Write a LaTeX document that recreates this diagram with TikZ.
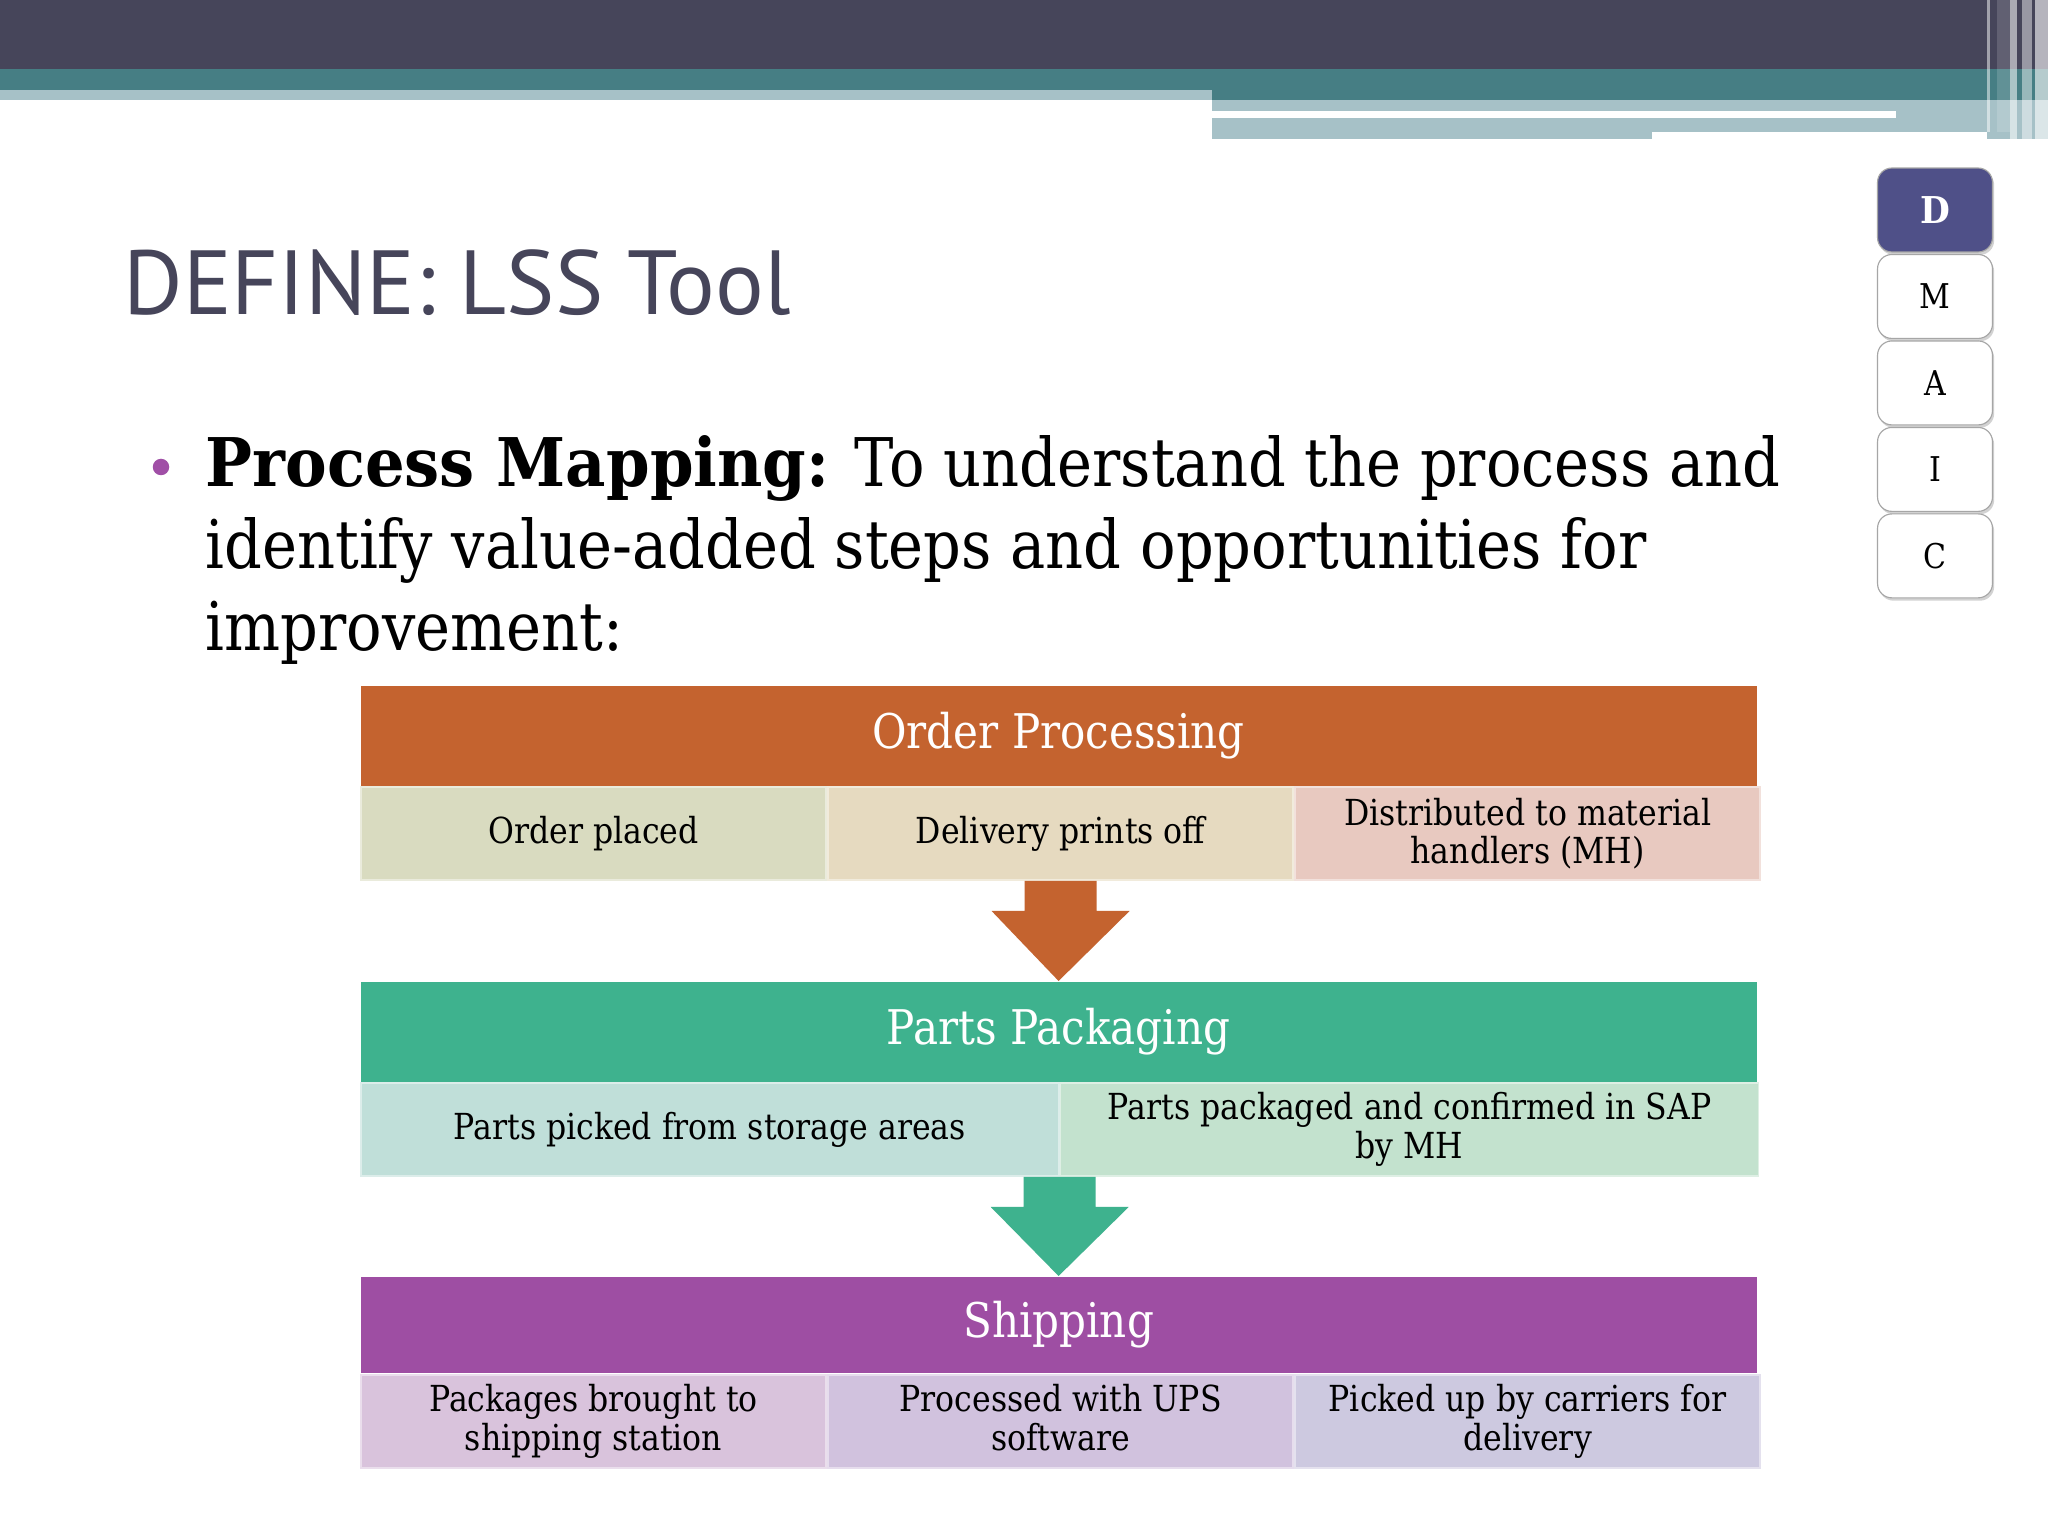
\documentclass[tikz,border=0pt]{standalone}
\usepackage{fontspec}
\setmainfont{DejaVu Serif}[FakeStretch=0.88, BoldFeatures={FakeStretch=0.93}]
\newfontfamily\titlefont{PT Sans}
\usetikzlibrary{calc,shadows,positioning}

\definecolor{barDark}{HTML}{46455A}
\definecolor{barTeal}{HTML}{467E84}
\definecolor{barLight}{HTML}{A6C1C7}
\definecolor{titleInk}{HTML}{46455A}
\definecolor{tabBlue}{HTML}{4F5088}
\definecolor{dotPurple}{HTML}{A04FA6}
\definecolor{opHead}{HTML}{C4632F}
\definecolor{opA}{HTML}{D9DBC0}
\definecolor{opB}{HTML}{E6DAC0}
\definecolor{opC}{HTML}{E8C9C0}
\definecolor{ppHead}{HTML}{3EB28E}
\definecolor{ppA}{HTML}{C0DFD9}
\definecolor{ppB}{HTML}{C3E2CE}
\definecolor{shHead}{HTML}{9E4EA3}
\definecolor{shA}{HTML}{D9C3DC}
\definecolor{shB}{HTML}{D1C2DE}
\definecolor{shC}{HTML}{CDC9E0}

\tikzset{
    head/.style={fill=#1, text=white, inner sep=0pt, anchor=north west,
        minimum width=490.8pt, minimum height=35.2pt,
        font=\fontsize{16.8}{18}\selectfont},
    cell/.style={fill=#1, draw=#1!55!white, line width=0.6pt, inner sep=0pt,
        anchor=north west, minimum width=163.6pt, minimum height=32.7pt,
        align=center, font=\fontsize{12.6}{13.6}\selectfont},
    wide/.style={cell=#1, minimum width=245.4pt},
    tab/.style={draw=gray!70, fill=white, rounded corners=5pt,
        minimum width=40.4pt, minimum height=29.5pt, inner sep=0pt,
        drop shadow={opacity=0.35, shadow xshift=0.6pt, shadow yshift=-1pt},
        font=\fontsize{12}{12}\selectfont},
    line/.style={anchor=base west, inner sep=0pt,
        font=\fontsize{23.6}{28}\selectfont},
}

\newcommand{\flowarrow}[3]{%
    \fill[#1] ($(#2)+(-36,0)$) -- ($(#2)+(36,0)$) -- ($(#2)+(36,30)$)
        -- ($(#2)+(69,30)$) -- (#3) -- ($(#2)+(-69,30)$)
        -- ($(#2)+(-36,30)$) -- cycle;}

\begin{document}
\begin{tikzpicture}[x=0.3515625pt, y=-0.3515625pt]
    \useasboundingbox (0,0) rectangle (2048,1536);
    \fill[white] (0,0) rectangle (2048,1536);

    % top bar
    \fill[barDark] (0,0) rectangle (2048,69);
    \fill[barTeal] (0,69) rectangle (2048,90);
    \fill[barLight] (0,90) rectangle (1212,100);
    \fill[barTeal] (1212,90) rectangle (2048,100);
    \fill[barLight] (1212,100) rectangle (1987,132);
    \fill[barLight] (1212,132) rectangle (1652,139);
    \fill[white] (1212,111) rectangle (1896,118);
    \fill[barLight] (1987,100) rectangle (2048,139);
    \fill[white,opacity=.5] (1987,0) rectangle (1990,132);
    \fill[white,opacity=.15] (1997,0) rectangle (2010,132);
    \fill[white,opacity=.55] (2010,0) rectangle (2017,139);
    \fill[white,opacity=.45] (2022,0) rectangle (2032,139);
    \fill[white,opacity=.6] (2035,0) rectangle (2048,139);

    % title and bullet
    \node[anchor=base west, inner sep=0pt, text=titleInk,
        font=\titlefont\fontsize{32}{36}\selectfont] (title) at (123,315) {DEFINE: LSS Tool};
    \fill[dotPurple] (161,467) circle (2.9pt);
    \node[line] (bl1) at (205,487) {\textbf{Process Mapping:} To understand the process and};
    \node[line] (bl2) at (205,569) {identify value-added steps and opportunities for};
    \node[line] (bl3) at (205,651) {improvement:};

    % DMAIC tabs
    \node[tab, fill=tabBlue, text=white, font=\fontsize{13}{13}\bfseries] (tabD) at (1935,210) {D};
    \node[tab, below=0.5pt of tabD] (tabM) {M};
    \node[tab, below=0.5pt of tabM] (tabA) {A};
    \node[tab, below=0.5pt of tabA] (tabI) {I};
    \node[tab, below=0.5pt of tabI] (tabC) {C};

    % order processing
    \node[head=opHead] (op) at (360,685) {Order Processing};
    \node[cell=opA] (op1) at (op.south west) {Order placed};
    \node[cell=opB] (op2) at (op1.north east) {Delivery prints off};
    \node[cell=opC] (op3) at (op2.north east) {Distributed to material\\handlers (MH)};

    % parts packaging
    \node[head=ppHead] (pp) at (360,981) {Parts Packaging};
    \node[wide=ppA] (pp1) at (pp.south west) {Parts picked from storage areas};
    \node[wide=ppB] (pp2) at (pp1.north east) {Parts packaged and confirmed in SAP\\by MH};

    % shipping
    \node[head=shHead, minimum height=34pt] (sh) at (360,1276) {Shipping};
    \node[cell=shA] (sh1) at (sh.south west) {Packages brought to\\shipping station};
    \node[cell=shB] (sh2) at (sh1.north east) {Processed with UPS\\software\vphantom{y}};
    \node[cell=shC] (sh3) at (sh2.north east) {Picked up by carriers for\\delivery};

    \flowarrow{opHead}{op2.south}{pp.north}
    \flowarrow{ppHead}{pp1.south east}{sh.north}
\end{tikzpicture}
\end{document}
